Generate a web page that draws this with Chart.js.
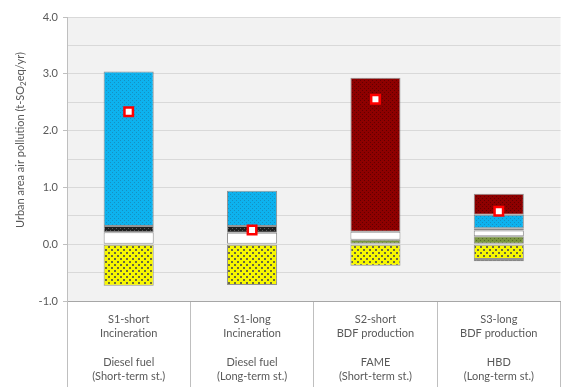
<!DOCTYPE html>
<html>
<head>
<meta charset="utf-8">
<script src="https://cdn.jsdelivr.net/npm/chart.js@4.4.1/dist/chart.umd.min.js"></script>
<style>
  html, body { margin: 0; padding: 0; background: #fff; overflow: hidden; }
  #wrap { width: 569px; height: 387px; }
</style>
</head>
<body>
<div id="wrap"><canvas id="chart" width="569" height="387"></canvas></div>
<script>
// scenario labels (two text blocks per category)
const categories = [
  ['S1-short', 'Incineration', '', 'Diesel fuel', '(Short-term st.)'],
  ['S1-long', 'Incineration', '', 'Diesel fuel', '(Long-term st.)'],
  ['S2-short', 'BDF production', '', 'FAME', '(Short-term st.)'],
  ['S3-long', 'BDF production', '', 'HBD', '(Long-term st.)'],
];

// stacked components, t-SO2eq/yr
const oliveVals  = [null, null, 0.08, 0.14];
const whiteVals  = [0.21, 0.20, 0.14, 0.10];
const blackVals  = [0.11, 0.12, null, 0.04];
const blueVals   = [2.72, 0.62, null, 0.24];
const redVals    = [null, null, 2.71, 0.37];
const yellowVals = [-0.73, -0.72, -0.38, -0.26];
const blackLowVals = [null, null, null, -0.04];

// net result per scenario
const netVals = [2.33, 0.25, 2.55, 0.58];

const yTicks = { min: -1, max: 4, step: 0.5 };

function pattern(size, base, dot, dots) {
  const c = document.createElement('canvas');
  c.width = c.height = size;
  const g = c.getContext('2d');
  g.fillStyle = base;
  g.fillRect(0, 0, size, size);
  g.fillStyle = dot;
  dots.forEach(([x, y, w]) => g.fillRect(x, y, w, w));
  return g.createPattern(c, 'repeat');
}

const fills = {
  olive: pattern(4, '#7a9640', '#56692c', [[0, 0, 1], [2, 2, 1]]),
  white: '#ffffff',
  black: pattern(4, '#1e1e1e', '#5a5a5a', [[0, 0, 1], [2, 2, 1]]),
  blue: pattern(4, '#0db2ee', '#1590c2', [[0, 0, 1], [2, 2, 1]]),
  red: pattern(4, '#8e0000', '#600000', [[0, 0, 1], [2, 2, 1]]),
  yellow: pattern(6, '#f7f700', '#6a6a40', [[0, 0, 2], [3, 3, 2]]),
};

const isWhole = v => Math.abs(v - Math.round(v)) < 1e-9;

function bar(label, data, fill) {
  return {
    type: 'bar',
    label: label,
    data: data,
    backgroundColor: fill,
    borderColor: 'rgba(70,70,70,0.55)',
    borderWidth: 1,
    borderSkipped: false,
    stack: 'parts',
    order: 1,
  };
}

const plotBackground = {
  id: 'plotBackground',
  beforeDraw(chart) {
    const { ctx, chartArea: a } = chart;
    ctx.save();
    ctx.fillStyle = '#f2f2f2';
    ctx.fillRect(a.left, a.top, a.right - a.left, a.bottom - a.top);
    ctx.restore();
  }
};

// rotated y title with a subscript 2
const yTitle = {
  id: 'yTitle',
  afterDraw(chart) {
    const ctx = chart.ctx;
    const parts = [['Urban area air pollution (t-SO', 0, 11], ['2', 3, 8], ['eq/yr)', 0, 11]];
    ctx.save();
    ctx.fillStyle = '#595959';
    ctx.textBaseline = 'middle';
    let total = 0;
    parts.forEach(p => { ctx.font = p[2] + 'px Lato'; total += ctx.measureText(p[0]).width; });
    ctx.translate(20, 140);
    ctx.rotate(-Math.PI / 2);
    let x = -total / 2;
    parts.forEach(p => {
      ctx.font = p[2] + 'px Lato';
      ctx.fillText(p[0], x, p[1]);
      x += ctx.measureText(p[0]).width;
    });
    ctx.restore();
  }
};

Chart.defaults.font.family = 'Lato, "Liberation Sans", sans-serif';
Chart.defaults.font.size = 11;
Chart.defaults.color = '#595959';

new Chart(document.getElementById('chart'), {
  data: {
    labels: categories,
    datasets: [
      bar('Yellow', yellowVals, fills.yellow),
      bar('Black (neg.)', blackLowVals, fills.black),
      bar('Olive', oliveVals, fills.olive),
      bar('White', whiteVals, fills.white),
      bar('Black', blackVals, fills.black),
      bar('Blue', blueVals, fills.blue),
      bar('Dark red', redVals, fills.red),
      {
        type: 'line',
        label: 'Net',
        data: netVals,
        showLine: false,
        pointStyle: 'rect',
        pointRadius: 6,
        pointBorderWidth: 2.5,
        pointBorderColor: '#ff0000',
        pointBackgroundColor: '#ffffff',
        stack: 'net',
        order: 0,
      },
    ],
  },
  options: {
    responsive: false,
    animation: false,
    layout: { padding: { top: 17, left: 0, right: 0, bottom: 0 } },
    datasets: { bar: { categoryPercentage: 1, barPercentage: 0.406 } },
    plugins: { legend: { display: false }, tooltip: { enabled: false } },
    scales: {
      x: {
        stacked: true,
        offset: true,
        grid: {
          offset: true,
          drawOnChartArea: false,
          drawTicks: true,
          tickLength: 86,
          color: '#bfbfbf',
        },
        border: { color: '#a6a6a6' },
        ticks: { padding: -75, maxRotation: 0, autoSkip: false, font: { size: 11, lineHeight: 1.3 } },
        afterFit: s => { s.height = 86; },
      },
      y: {
        stacked: true,
        min: yTicks.min,
        max: yTicks.max,
        ticks: {
          stepSize: yTicks.step,
          padding: 5,
          callback: v => isWhole(v) ? v.toFixed(1) : '',
        },
        grid: {
          color: '#d9d9d9',
          tickLength: 4,
          tickColor: c => (c.tick && isWhole(c.tick.value)) ? '#bfbfbf' : 'rgba(0,0,0,0)',
        },
        border: { color: '#bfbfbf' },
        afterFit: s => { s.width = 67; },
      },
    },
  },
  plugins: [plotBackground, yTitle],
});
</script>
</body>
</html>
